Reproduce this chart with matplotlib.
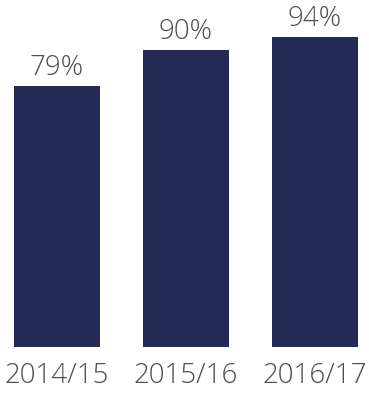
import matplotlib
matplotlib.use("Agg")
import matplotlib.pyplot as plt

years = ["2014/15", "2015/16", "2016/17"]
values = [79, 90, 94]

W, H, DPI = 369, 396, 100
fig = plt.figure(figsize=(W / DPI, H / DPI), dpi=DPI)
fig.patch.set_facecolor("white")

base_px = 347      # pixel row of the baseline
px_per_unit = 3.30
step_px = 129
first_px = 57

ax = fig.add_axes([0, (H - base_px) / H, 1, base_px / H])
ax.set_xlim(-first_px / step_px, (W - first_px) / step_px)
ax.set_ylim(0, base_px / px_per_unit)

x = range(len(years))
bars = ax.bar(x, values, width=0.66, color="#222a55")

text_color = "#4f4f4f"
font = "Open Sans"
for xi, v in zip(x, values):
    ax.text(xi, v + 3.4, f"{v}%", ha="center", va="baseline",
            fontsize=20, color=text_color, family=font, fontweight="light")

for xi, lab in zip(x, years):
    ax.text(xi, -7.6, lab, ha="center", va="center_baseline", fontsize=20,
            color=text_color, family=font, fontweight="light", clip_on=False)

ax.axis("off")
fig.savefig("out.png", dpi=DPI, facecolor="white")
